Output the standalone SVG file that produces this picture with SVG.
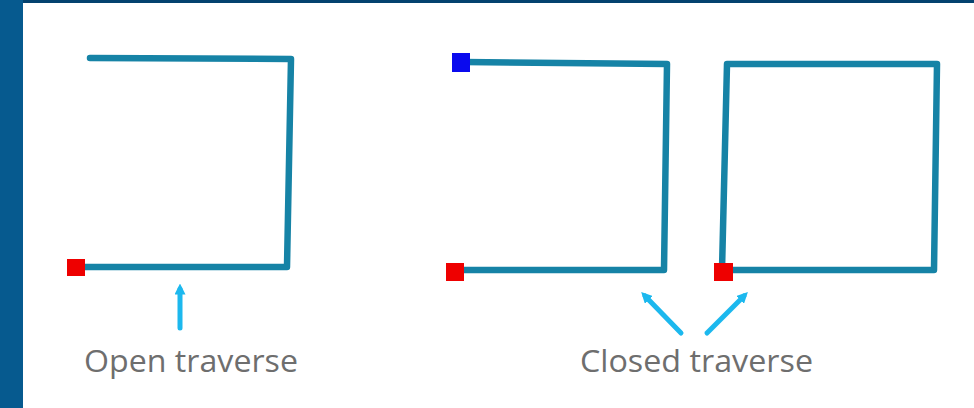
<svg xmlns="http://www.w3.org/2000/svg" width="974" height="408" viewBox="0 0 974 408">
<defs>
<style>
.trav{fill:none;stroke:#1683a6;stroke-width:6.5;stroke-linecap:round;stroke-linejoin:round}
.ptr{fill:none;stroke:#1cb8ee;stroke-width:5;stroke-linecap:round}
.lbl{font-family:"Open Sans","Noto Sans",sans-serif;font-size:31px;fill:#6e6e6e}
</style>
<marker id="ah" viewBox="0 0 10 10" refX="5" refY="5" markerWidth="2.2" markerHeight="2.2" orient="auto">
<path d="M0,0 L10,5 L0,10 z" fill="#1cb8ee"/>
</marker>
</defs>
<rect width="974" height="408" fill="#ffffff"/>
<rect x="0" y="0" width="974" height="3" fill="#04426f"/>
<rect x="0" y="0" width="23" height="408" fill="#065a8f"/>
<g id="open-traverse">
<polyline class="trav" points="90,58 291,59 287,267 78,267"/>
<rect x="67" y="259" width="18" height="17" fill="#ee0000"/>
</g>
<g id="closed-traverse-1">
<polyline class="trav" points="464,62 667,64 664,270 456,270"/>
<rect x="452" y="53" width="18" height="19" fill="#0a0aee"/>
<rect x="446" y="263" width="18" height="18" fill="#ee0000"/>
</g>
<g id="closed-traverse-2">
<polygon class="trav" points="727,64 937,64 934,270 722,270"/>
<rect x="714" y="263" width="19" height="18" fill="#ee0000"/>
</g>
<g id="connectors">
<line class="ptr" x1="180" y1="328" x2="180" y2="289" marker-end="url(#ah)"/>
<line class="ptr" x1="681" y1="333" x2="645" y2="296" marker-end="url(#ah)"/>
<line class="ptr" x1="707" y1="333" x2="744" y2="296" marker-end="url(#ah)"/>
</g>
<g id="labels">
<text class="lbl" x="84" y="372" textLength="214" lengthAdjust="spacingAndGlyphs">Open traverse</text>
<text class="lbl" x="580" y="372" textLength="233" lengthAdjust="spacingAndGlyphs">Closed traverse</text>
</g>
</svg>
